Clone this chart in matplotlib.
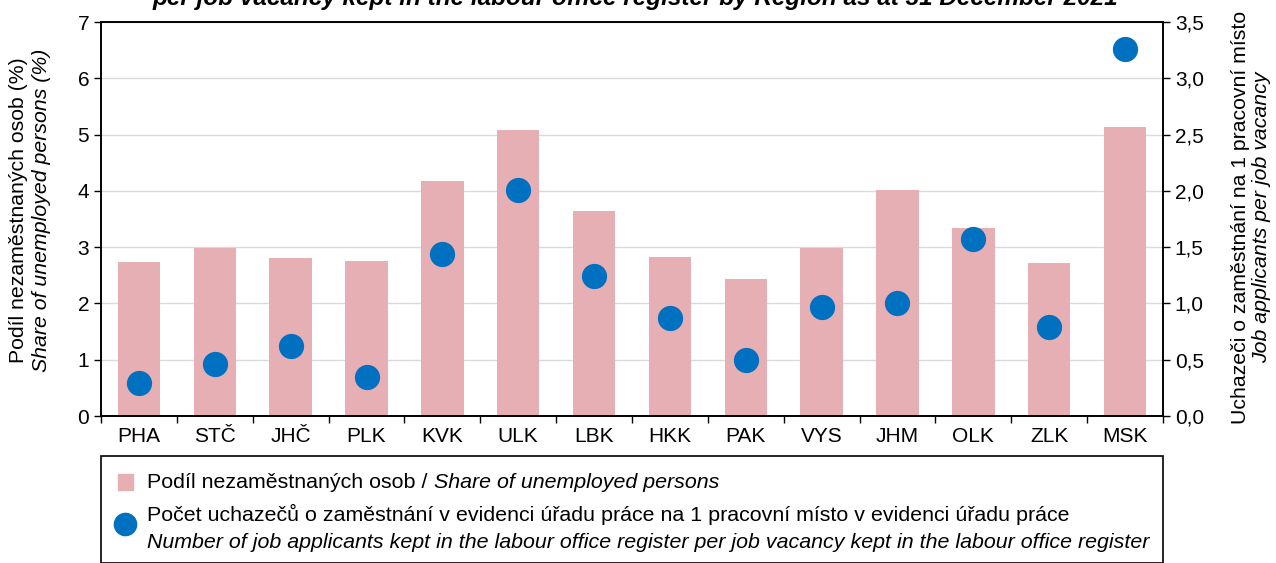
import matplotlib
matplotlib.use("Agg")
import matplotlib.pyplot as plt
import numpy as np
from matplotlib.patches import Rectangle
from matplotlib.lines import Line2D
from matplotlib.ticker import FuncFormatter

plt.rcParams['font.family'] = ['Liberation Sans', 'DejaVu Sans']

kraje = ['PHA', 'STČ', 'JHČ', 'PLK', 'KVK', 'ULK', 'LBK', 'HKK', 'PAK', 'VYS', 'JHM', 'OLK', 'ZLK', 'MSK']
podil = [2.74, 2.98, 2.81, 2.76, 4.17, 5.08, 3.65, 2.82, 2.43, 2.98, 4.01, 3.34, 2.71, 5.13]
uchazeci = [0.29, 0.46, 0.62, 0.35, 1.44, 2.01, 1.24, 0.87, 0.50, 0.97, 1.00, 1.57, 0.79, 3.26]

barva_sloupce = '#E6AFB4'
barva_bodu = '#0070C0'
W, H = 1276, 563
fs_tick = 15
fs_leg = 15.4
fs_lab = 15.3

fig = plt.figure(figsize=(W / 100, H / 100), dpi=100)
ax = fig.add_axes([101 / W, 1 - 416 / H, (1163 - 101) / W, (416 - 22) / H])
x = np.arange(len(kraje))

ax.bar(x, podil, width=0.56, color=barva_sloupce, zorder=2)
ax.set_xlim(-0.5, len(kraje) - 0.5)
ax.set_ylim(0, 7)
ax.set_yticks(range(8))
ax.yaxis.grid(True, color='#D9D9D9', lw=1, zorder=0)
ax.set_xticks(x)
ax.set_xticklabels(kraje)
ax.set_xticks(np.arange(len(kraje) + 1) - 0.5, minor=True)
ax.tick_params(axis='both', labelsize=fs_tick, length=5, color='black', width=1)
ax.tick_params(axis='x', which='major', length=0, pad=8)
ax.tick_params(axis='x', which='minor', length=5, width=1)
for s in ax.spines.values():
    s.set_color('black')
    s.set_linewidth(1.2)

ax2 = ax.twinx()
ax2.scatter(x, uchazeci, s=330, color=barva_bodu, zorder=3, linewidths=0)
ax2.set_ylim(0, 3.5)
ax2.set_yticks(np.arange(0, 3.51, 0.5))
ax2.yaxis.set_major_formatter(FuncFormatter(lambda v, p: f'{v:.1f}'.replace('.', ',')))
ax2.tick_params(axis='y', labelsize=fs_tick, length=5, width=1)
for s in ax2.spines.values():
    s.set_color('black')
    s.set_linewidth(1.2)

# popisky os
fig.text(19 / W, 1 - 210 / H, 'Podíl nezaměstnaných osob (%)', rotation=90,
         ha='center', va='center', fontsize=fs_lab)
fig.text(42 / W, 1 - 210 / H, 'Share of unemployed persons (%)', rotation=90,
         ha='center', va='center', fontsize=fs_lab, style='italic')
fig.text(1240 / W, 1 - 217 / H, 'Uchazeči o zaměstnání na 1 pracovní místo', rotation=90,
         ha='center', va='center', fontsize=fs_lab)
fig.text(1262 / W, 1 - 217 / H, 'Job applicants per job vacancy', rotation=90,
         ha='center', va='center', fontsize=fs_lab, style='italic')

# titulek (oriznuty nahore)
fig.text(635 / W, 1 - 5 / H,
         'per job vacancy kept in the labour office register by Region as at 31 December 2021',
         ha='center', va='baseline', fontsize=17.5, style='italic', weight='bold')

# legenda
fig.patches.append(Rectangle((101 / W, 0), (1163 - 101) / W, (563 - 456) / H,
                             transform=fig.transFigure, fill=False, edgecolor='black', lw=1.2))
fig.patches.append(Rectangle((118 / W, 1 - 490 / H), 15 / W, 16 / H,
                             transform=fig.transFigure, color=barva_sloupce))
fig.lines.append(Line2D([125 / W], [1 - 524 / H], transform=fig.transFigure, marker='o',
                        markersize=17, color=barva_bodu, markeredgewidth=0))

fig.canvas.draw()
r = fig.canvas.get_renderer()
t1 = fig.text(147 / W, 1 - 482 / H, 'Podíl nezaměstnaných osob / ', va='center', fontsize=fs_leg)
bb = t1.get_window_extent(renderer=r)
fig.text(bb.x1 / W, 1 - 482 / H, 'Share of unemployed persons', va='center', fontsize=fs_leg, style='italic')
fig.text(147 / W, 1 - 514 / H,
         'Počet uchazečů o zaměstnání v evidenci úřadu práce na 1 pracovní místo v evidenci úřadu práce',
         va='center', fontsize=fs_leg)
fig.text(147 / W, 1 - 542 / H,
         'Number of job applicants kept in the labour office register per job vacancy kept in the labour office register',
         va='center', fontsize=fs_leg, style='italic')

fig.savefig('out.png', dpi=100)
